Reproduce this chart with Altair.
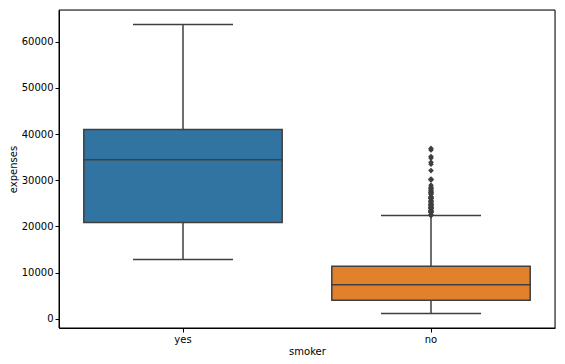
import altair as alt
import pandas as pd

categories = ["yes", "no"]
q1 = [20826.24, 3986.44]
median = [34456.35, 7345.41]
q3 = [41019.21, 11362.89]
whisker_low = [12829.46, 1121.87]
whisker_high = [63770.43, 22395.74]
box_colors = ["#3274a1", "#e1812c"]

outliers_no = [22412.65, 22462.04, 22478.60, 22493.66, 23045.57, 23065.42, 23082.96,
               23241.47, 23288.93, 23306.55, 23401.31, 23563.02, 23807.24, 23887.66,
               23967.38, 24059.68, 24106.91, 24180.93, 24227.34, 24513.09, 24535.70,
               24667.42, 24671.66, 24915.05, 25081.77, 25333.33, 25382.30, 25517.11,
               25678.78, 26018.95, 26125.67, 26140.36, 26236.58, 26392.26, 26467.10,
               27000.98, 27117.99, 27346.04, 27375.90, 27533.91, 27724.29, 27941.29,
               28287.90, 28340.19, 28476.73, 28950.47, 30063.58, 30166.62, 30284.64,
               32108.66, 33471.97, 33900.65, 34806.47, 35160.13, 36580.28, 36910.61]

box = pd.DataFrame({
    "smoker": categories, "q1": q1, "median": median, "q3": q3,
    "lo": whisker_low, "hi": whisker_high,
})
out = pd.DataFrame({"smoker": ["no"] * len(outliers_no), "expenses": outliers_no})

LINE = "#3f3f3f"
FONT = "DejaVu Sans"

x = alt.X("smoker:N", sort=categories,
          scale=alt.Scale(domain=categories, paddingInner=0, paddingOuter=0),
          axis=alt.Axis(title="smoker", labelAngle=0, domain=True, domainColor="#000000",
                        domainWidth=1, tickSize=4,
                        tickColor="black", labelColor="black", titleColor="black",
                        labelFont=FONT, titleFont=FONT, labelFontSize=10,
                        titleFontSize=10, titleFontWeight="normal", labelPadding=2,
                        titlePadding=2))
yscale = alt.Scale(domain=[-2011, 66903], nice=False, zero=False)
yaxis = alt.Axis(title="expenses", values=[0, 10000, 20000, 30000, 40000, 50000, 60000],
                 format="d", domain=True, domainColor="#000000", domainWidth=1,
                 grid=False, tickSize=4, tickColor="black",
                 labelColor="black", titleColor="black", labelFont=FONT, titleFont=FONT,
                 labelFontSize=10, titleFontSize=10, titleFontWeight="normal",
                 labelPadding=2, titlePadding=3)

base = alt.Chart(box)

lower = base.mark_rule(color=LINE, strokeWidth=1.5).encode(
    x=x, y=alt.Y("lo:Q", scale=yscale, axis=yaxis), y2="q1:Q")
upper = base.mark_rule(color=LINE, strokeWidth=1.5).encode(
    x=x, y=alt.Y("q3:Q", scale=yscale, axis=yaxis), y2="hi:Q")
bars = base.mark_bar(width=alt.RelativeBandSize(0.8), stroke=LINE, strokeWidth=1.5).encode(
    x=x, y=alt.Y("q1:Q", scale=yscale, axis=yaxis), y2="q3:Q",
    color=alt.Color("smoker:N", scale=alt.Scale(domain=categories, range=box_colors),
                    legend=None))
med = base.mark_tick(color=LINE, size=199, thickness=1.5, opacity=1).encode(
    x=x, y=alt.Y("median:Q", scale=yscale, axis=yaxis))
cap_lo = base.mark_tick(color=LINE, size=100, thickness=1.5, opacity=1).encode(
    x=x, y=alt.Y("lo:Q", scale=yscale, axis=yaxis))
cap_hi = base.mark_tick(color=LINE, size=100, thickness=1.5, opacity=1).encode(
    x=x, y=alt.Y("hi:Q", scale=yscale, axis=yaxis))
pts = alt.Chart(out).mark_point(shape="diamond", filled=True, color=LINE, size=32,
                                opacity=1).encode(
    x=x, y=alt.Y("expenses:Q", scale=yscale, axis=yaxis))
frame = alt.Chart(pd.DataFrame({"f": [0]})).mark_rect(
    filled=False, stroke="#000000", strokeWidth=1).encode(
    x=alt.value(0), x2=alt.value("width"), y=alt.value(0), y2=alt.value("height"))

chart = alt.layer(lower, upper, bars, med, cap_lo, cap_hi, pts, frame).properties(
    width=549, height=348,
    autosize=alt.AutoSizeParams(type="fit", contains="padding"),
    padding={"left": 0, "top": 1, "right": 1, "bottom": 0},
).configure_view(stroke="#000000", strokeWidth=1, strokeOpacity=1).configure(
    background="white")

chart.save("out.html", embed_options={"renderer": "svg", "actions": False})
